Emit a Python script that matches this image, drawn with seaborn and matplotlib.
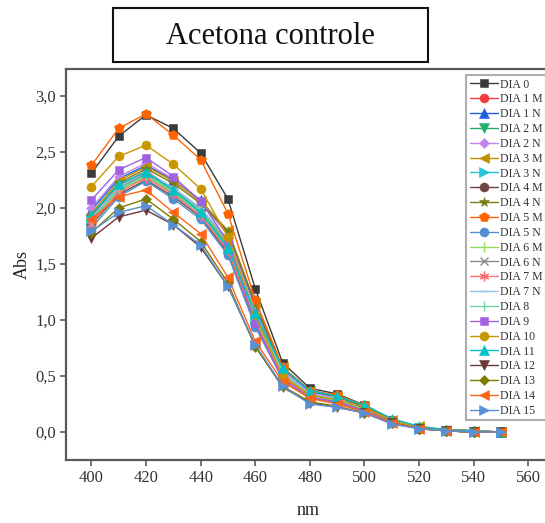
import matplotlib
matplotlib.use("Agg")
import matplotlib.pyplot as plt
import matplotlib.patches as mpatches
from matplotlib.ticker import FuncFormatter, MultipleLocator
import seaborn as sns
import pandas as pd

sns.set_theme(style="white")
plt.rcParams['font.family'] = ['Liberation Serif', 'DejaVu Serif']

wavelength = [400, 410, 420, 430, 440, 450, 460, 470, 480, 490, 500, 510, 520, 530, 540, 550]

series_names = ["DIA 0", "DIA 1 M", "DIA 1 N", "DIA 2 M", "DIA 2 N", "DIA 3 M", "DIA 3 N",
                "DIA 4 M", "DIA 4 N", "DIA 5 M", "DIA 5 N", "DIA 6 M", "DIA 6 N", "DIA 7 M",
                "DIA 7 N", "DIA 8", "DIA 9", "DIA 10", "DIA 11", "DIA 12", "DIA 13", "DIA 14", "DIA 15"]

dia_0  = [2.31, 2.64, 2.83, 2.71, 2.49, 2.08, 1.28, 0.62, 0.39, 0.34, 0.24, 0.11, 0.04, 0.02, 0.01, 0.00]
dia_1m = [1.92, 2.20, 2.33, 2.17, 1.98, 1.68, 1.00, 0.50, 0.33, 0.28, 0.20, 0.09, 0.04, 0.01, 0.00, 0.00]
dia_1n = [1.98, 2.26, 2.38, 2.25, 2.07, 1.78, 1.12, 0.56, 0.36, 0.31, 0.22, 0.10, 0.04, 0.02, 0.01, 0.00]
dia_2m = [1.90, 2.18, 2.30, 2.15, 1.97, 1.66, 1.02, 0.52, 0.33, 0.28, 0.20, 0.09, 0.04, 0.01, 0.00, 0.00]
dia_2n = [2.00, 2.28, 2.40, 2.26, 2.05, 1.76, 1.08, 0.55, 0.35, 0.30, 0.21, 0.10, 0.04, 0.02, 0.01, 0.00]
dia_3m = [1.95, 2.24, 2.37, 2.24, 2.06, 1.80, 1.15, 0.58, 0.37, 0.32, 0.23, 0.11, 0.05, 0.02, 0.01, 0.00]
dia_3n = [1.88, 2.16, 2.28, 2.13, 1.95, 1.64, 1.00, 0.50, 0.32, 0.28, 0.20, 0.09, 0.04, 0.01, 0.00, 0.00]
dia_4m = [1.85, 2.12, 2.25, 2.10, 1.92, 1.60, 0.96, 0.48, 0.31, 0.27, 0.19, 0.09, 0.03, 0.01, 0.00, 0.00]
dia_4n = [1.93, 2.22, 2.35, 2.22, 2.04, 1.79, 1.14, 0.57, 0.37, 0.32, 0.22, 0.10, 0.04, 0.02, 0.01, 0.00]
dia_5m = [2.38, 2.71, 2.84, 2.65, 2.43, 1.95, 1.18, 0.58, 0.37, 0.33, 0.24, 0.11, 0.04, 0.02, 0.01, 0.00]
dia_5n = [1.82, 2.10, 2.24, 2.08, 1.90, 1.58, 0.94, 0.47, 0.30, 0.26, 0.18, 0.08, 0.03, 0.01, 0.00, 0.00]
dia_6m = [1.87, 2.15, 2.28, 2.14, 1.96, 1.65, 1.01, 0.50, 0.32, 0.28, 0.20, 0.09, 0.04, 0.01, 0.00, 0.00]
dia_6n = [1.90, 2.18, 2.31, 2.17, 1.99, 1.70, 1.05, 0.53, 0.34, 0.29, 0.21, 0.10, 0.04, 0.02, 0.00, 0.00]
dia_7m = [1.86, 2.14, 2.27, 2.12, 1.93, 1.62, 0.98, 0.49, 0.31, 0.27, 0.19, 0.09, 0.03, 0.01, 0.00, 0.00]
dia_7n = [1.91, 2.19, 2.32, 2.18, 2.00, 1.72, 1.07, 0.54, 0.34, 0.30, 0.21, 0.10, 0.04, 0.02, 0.01, 0.00]
dia_8  = [1.89, 2.17, 2.29, 2.16, 1.98, 1.69, 1.04, 0.52, 0.33, 0.29, 0.20, 0.10, 0.04, 0.01, 0.00, 0.00]
dia_9  = [2.07, 2.34, 2.45, 2.28, 2.06, 1.70, 0.97, 0.47, 0.31, 0.27, 0.19, 0.09, 0.03, 0.01, 0.00, 0.00]
dia_10 = [2.19, 2.46, 2.56, 2.39, 2.17, 1.74, 1.04, 0.50, 0.33, 0.29, 0.21, 0.10, 0.04, 0.02, 0.01, 0.00]
dia_11 = [1.94, 2.21, 2.32, 2.16, 1.96, 1.64, 1.06, 0.57, 0.37, 0.32, 0.24, 0.12, 0.05, 0.02, 0.01, 0.00]
dia_12 = [1.73, 1.92, 1.98, 1.85, 1.65, 1.30, 0.77, 0.40, 0.26, 0.22, 0.17, 0.08, 0.03, 0.01, 0.00, 0.00]
dia_13 = [1.78, 2.00, 2.08, 1.90, 1.70, 1.33, 0.76, 0.41, 0.27, 0.23, 0.17, 0.08, 0.03, 0.01, 0.00, 0.00]
dia_14 = [1.90, 2.10, 2.16, 1.96, 1.77, 1.38, 0.81, 0.45, 0.30, 0.25, 0.18, 0.08, 0.03, 0.01, 0.00, 0.00]
dia_15 = [1.79, 1.96, 2.02, 1.85, 1.67, 1.30, 0.78, 0.41, 0.25, 0.22, 0.17, 0.07, 0.03, 0.01, 0.00, 0.00]

all_values = [dia_0, dia_1m, dia_1n, dia_2m, dia_2n, dia_3m, dia_3n, dia_4m, dia_4n, dia_5m,
              dia_5n, dia_6m, dia_6n, dia_7m, dia_7n, dia_8, dia_9, dia_10, dia_11, dia_12,
              dia_13, dia_14, dia_15]

colors = ["#3a3a3a", "#f23c3c", "#1f5fe0", "#22b068", "#c083f0", "#c09000", "#22c6d8",
          "#6e4444", "#7c7c1c", "#ff6400", "#4f8fd2", "#92de5a", "#8c8c8c", "#ff7070",
          "#98c4f0", "#74d4a4", "#a062e2", "#c89600", "#00c0c8", "#6a3838", "#7c7c00",
          "#ff6418", "#5a90d8"]
markers = ["s", "o", "^", "v", "D", "<", ">", "o", "*", "p", "o", "|", "x", (6, 2, 0),
           "_", "|", "s", "o", "^", "v", "D", "<", ">"]
msizes = [6, 6.5, 6.5, 6.5, 5.5, 6.5, 6.5, 6.5, 7.5, 7, 6.5, 7, 6, 7, 7, 7, 6, 6.5, 6.5, 6.5, 5.5, 6.5, 6.5]
thin_markers = ("|", "_", "x")

W, H = 545, 523
fig = plt.figure(figsize=(W / 100, H / 100), dpi=100)
ax = fig.add_axes([66 / W, (H - 460) / H, (W - 66) / W + 0.01, (460 - 69) / H])

for name, vals, c, m, ms in zip(series_names, all_values, colors, markers, msizes):
    df = pd.DataFrame({"nm": wavelength, "Abs": vals})
    thin = (m in thin_markers) or isinstance(m, tuple)
    sns.lineplot(data=df, x="nm", y="Abs", ax=ax, color=c, marker=m, markersize=ms,
                 markeredgecolor=c, markeredgewidth=1.0 if thin else 0.4,
                 linewidth=1.0, label=name)

ax.set_xlim(390.7, 568.1)
ax.set_ylim(-0.25, 3.24)
ax.xaxis.set_major_locator(MultipleLocator(20))
ax.yaxis.set_major_locator(MultipleLocator(0.5))
ax.yaxis.set_major_formatter(FuncFormatter(lambda v, p: f"{v:.1f}".replace(".", ",")))

for side in ("left", "bottom", "top"):
    ax.spines[side].set_color("#5a5a5a")
    ax.spines[side].set_linewidth(1.6)
ax.spines["right"].set_visible(False)
ax.tick_params(axis="both", direction="out", length=4, width=1.2, color="#5a5a5a",
               labelsize=12, labelcolor="#333333", pad=3, bottom=True, left=True)
ax.set_xlabel("nm", fontsize=13, color="#222222", labelpad=12)
ax.set_ylabel("Abs", fontsize=13, color="#222222", labelpad=3)
ax.grid(False)

leg = ax.legend(loc="upper left", bbox_to_anchor=(466 / W, 1 - 75 / H),
                bbox_transform=fig.transFigure, fontsize=8.5, frameon=True,
                fancybox=False, borderaxespad=0, borderpad=0.3, labelspacing=0.24,
                handlelength=2.4, handletextpad=0.15, markerscale=1.0)
leg.get_frame().set_edgecolor("#9a9a9a")
leg.get_frame().set_linewidth(1.5)
for t in leg.get_texts():
    t.set_color("#333333")

rect = mpatches.Rectangle((113 / W, 1 - 62 / H), (428 - 113) / W, (62 - 8) / H,
                          transform=fig.transFigure, fill=False, edgecolor="#111111",
                          linewidth=1.5)
fig.patches.append(rect)
fig.text((113 + 428) / 2 / W, 1 - 36 / H, "Acetona controle", ha="center", va="center",
         fontsize=22, color="#111111")

fig.savefig("out.png", dpi=100)
